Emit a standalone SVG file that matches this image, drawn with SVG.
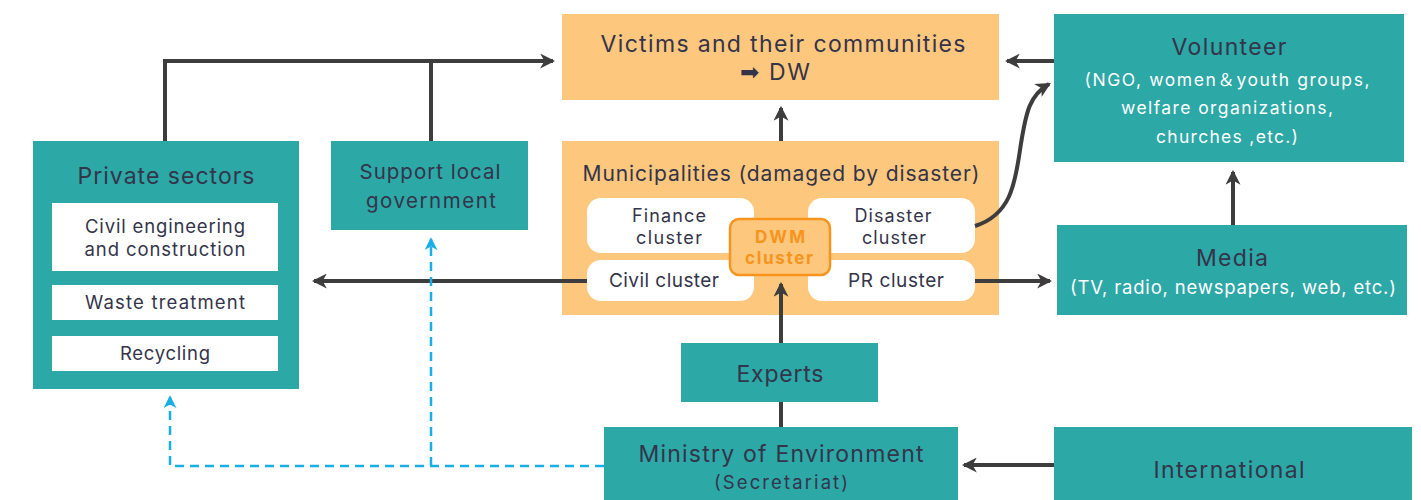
<svg xmlns="http://www.w3.org/2000/svg" width="1421" height="500" viewBox="0 0 1421 500">
<style>
.teal{fill:#2ca8a7}
.org{fill:#fdc77d}
.wb{fill:#ffffff}
.t{font-family:Inter,Roboto,"DejaVu Sans",sans-serif;fill:#34344a;text-anchor:middle}
.w{font-family:Inter,Roboto,"Noto Sans CJK JP","DejaVu Sans",sans-serif;fill:#ffffff;text-anchor:middle}
.d{font-family:Inter,Roboto,"DejaVu Sans",sans-serif;fill:#f7941d;text-anchor:middle;font-weight:bold}
.ln{stroke:#3d3d3d;stroke-width:4;fill:none}
.ds{stroke:#1aaee8;stroke-width:2.5;fill:none;stroke-dasharray:9 6}
</style>
<defs>
<marker id="ah" viewBox="0 0 14 14" refX="12" refY="7" markerWidth="15" markerHeight="15" markerUnits="userSpaceOnUse" orient="auto">
<path d="M0,0 L14,7 L0,14 L4,7 z" fill="#3d3d3d"/>
</marker>
<marker id="bh" viewBox="0 0 14 14" refX="12" refY="7" markerWidth="13" markerHeight="13" markerUnits="userSpaceOnUse" orient="auto">
<path d="M0,0 L14,7 L0,14 L4,7 z" fill="#1aaee8"/>
</marker>
</defs>
<rect width="1421" height="500" fill="#ffffff"/>

<g id="victims">
<rect class="org" x="562" y="14" width="437" height="86"/>
<text class="t" x="783" y="52" font-size="23" textLength="365" lengthAdjust="spacing">Victims and their communities</text>
<text class="t" x="775" y="80" font-size="23" textLength="70" lengthAdjust="spacing">➡ DW</text>
</g>

<g id="municipalities">
<rect class="org" x="562" y="141" width="437" height="174"/>
<text class="t" x="781" y="181" font-size="21" textLength="397" lengthAdjust="spacing">Municipalities (damaged by disaster)</text>
<rect class="wb" x="587" y="198" width="167" height="55" rx="14"/>
<text class="t" x="669" y="222" font-size="18" textLength="74" lengthAdjust="spacing">Finance</text>
<text class="t" x="669" y="244" font-size="18" textLength="66" lengthAdjust="spacing">cluster</text>
<rect class="wb" x="587" y="260" width="167" height="41" rx="14"/>
<text class="t" x="664" y="287" font-size="19" textLength="110" lengthAdjust="spacing">Civil cluster</text>
<rect class="wb" x="808" y="198" width="167" height="55" rx="14"/>
<text class="t" x="893" y="222" font-size="18" textLength="77" lengthAdjust="spacing">Disaster</text>
<text class="t" x="894" y="244" font-size="18" textLength="64" lengthAdjust="spacing">cluster</text>
<rect class="wb" x="808" y="260" width="167" height="41" rx="14"/>
<text class="t" x="896" y="287" font-size="19" textLength="96" lengthAdjust="spacing">PR cluster</text>
<rect x="730" y="219" width="100" height="56" rx="9" fill="#fdc77d" stroke="#f7941d" stroke-width="2.5"/>
<text class="d" x="780" y="243" font-size="17" textLength="50" lengthAdjust="spacing">DWM</text>
<text class="d" x="779" y="264" font-size="17" textLength="68" lengthAdjust="spacing">cluster</text>
</g>

<g id="private">
<rect class="teal" x="33" y="141" width="266" height="248"/>
<text class="t" x="166" y="184" font-size="23" textLength="177" lengthAdjust="spacing">Private sectors</text>
<rect class="wb" x="52" y="203" width="226" height="68"/>
<text class="t" x="165" y="233" font-size="18.5" textLength="160" lengthAdjust="spacing">Civil engineering</text>
<text class="t" x="165" y="256" font-size="18.5" textLength="161" lengthAdjust="spacing">and construction</text>
<rect class="wb" x="52" y="285" width="226" height="35"/>
<text class="t" x="165" y="309" font-size="18.5" textLength="160" lengthAdjust="spacing">Waste treatment</text>
<rect class="wb" x="52" y="336" width="226" height="35"/>
<text class="t" x="165" y="360" font-size="18.5" textLength="90" lengthAdjust="spacing">Recycling</text>
</g>

<g id="support">
<rect class="teal" x="331" y="141" width="197" height="89"/>
<text class="t" x="430" y="179" font-size="20.5" textLength="141" lengthAdjust="spacing">Support local</text>
<text class="t" x="431" y="208" font-size="20.5" textLength="130" lengthAdjust="spacing">government</text>
</g>

<g id="volunteer">
<rect class="teal" x="1054" y="14" width="350" height="148"/>
<text class="t" x="1229" y="55" font-size="23" textLength="115" lengthAdjust="spacing">Volunteer</text>
<text class="w" x="1227" y="86" font-size="17.5" textLength="285" lengthAdjust="spacing">(NGO, women＆youth groups,</text>
<text class="w" x="1227" y="114" font-size="17.5" textLength="212" lengthAdjust="spacing">welfare organizations,</text>
<text class="w" x="1227" y="143" font-size="17.5" textLength="142" lengthAdjust="spacing">churches ,etc.)</text>
</g>

<g id="media">
<rect class="teal" x="1057" y="225" width="350" height="90"/>
<text class="t" x="1232" y="266" font-size="23" textLength="72" lengthAdjust="spacing">Media</text>
<text class="w" x="1233" y="294" font-size="18.5" textLength="326" lengthAdjust="spacing">(TV, radio, newspapers, web, etc.)</text>
</g>

<g id="experts">
<rect class="teal" x="681" y="343" width="197" height="59"/>
<text class="t" x="780" y="382" font-size="23" textLength="87" lengthAdjust="spacing">Experts</text>
</g>

<g id="ministry">
<rect class="teal" x="604" y="427" width="354" height="73"/>
<text class="t" x="781" y="462" font-size="23" textLength="285" lengthAdjust="spacing">Ministry of Environment</text>
<text class="t" x="781" y="489" font-size="18.5" textLength="134" lengthAdjust="spacing">(Secretariat)</text>
</g>

<g id="international">
<rect class="teal" x="1054" y="427" width="358" height="73"/>
<text class="t" x="1229" y="478" font-size="23" textLength="151" lengthAdjust="spacing">International</text>
</g>

<g id="connectors">
<path class="ln" d="M165,141 V61 H553" marker-end="url(#ah)"/>
<path class="ln" d="M431,141 V61"/>
<path class="ln" d="M781,141 V108" marker-end="url(#ah)"/>
<path class="ln" d="M1054,61 H1007" marker-end="url(#ah)"/>
<path class="ln" d="M975,226 C1010,215 1015,185 1020,150 C1026,110 1030,95 1049,84" marker-end="url(#ah)"/>
<path class="ln" d="M587,281 H314" marker-end="url(#ah)"/>
<path class="ln" d="M975,281 H1050" marker-end="url(#ah)"/>
<path class="ln" d="M1233,225 V172" marker-end="url(#ah)"/>
<path class="ln" d="M781,427 V402"/>
<path class="ln" d="M781,343 V284" marker-end="url(#ah)"/>
<path class="ln" d="M1054,465 H964" marker-end="url(#ah)"/>
<path class="ds" d="M604,466 H170 V397" marker-end="url(#bh)"/>
<path class="ds" d="M431,466 V239" marker-end="url(#bh)"/>
</g>
</svg>
